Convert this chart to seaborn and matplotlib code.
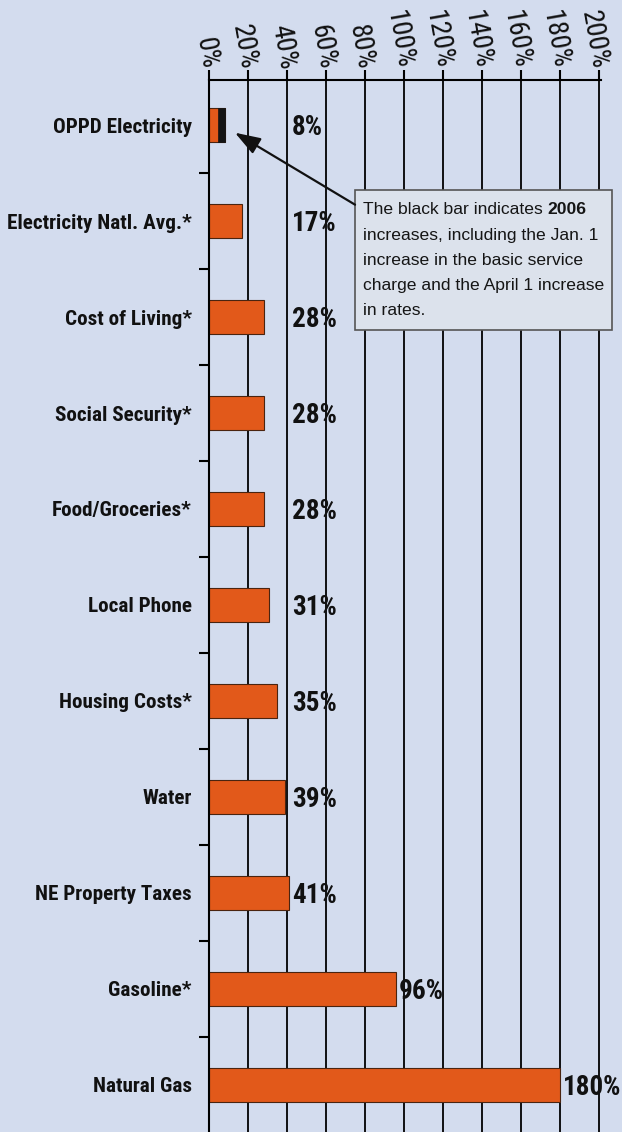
import matplotlib
matplotlib.use("Agg")
import matplotlib.pyplot as plt
from matplotlib.patches import Rectangle
import seaborn as sns
import pandas as pd

# Cumulative price increases by category
categories = [
    "OPPD Electricity",
    "Electricity Natl. Avg.*",
    "Cost of Living*",
    "Social Security*",
    "Food/Groceries*",
    "Local Phone",
    "Housing Costs*",
    "Water",
    "NE Property Taxes",
    "Gasoline*",
    "Natural Gas",
]
increase_pct = [8, 17, 28, 28, 28, 31, 35, 39, 41, 96, 180]
oppd_2006_pct = 3.5          # part of the OPPD bar coming from 2006 increases
x_ticks = [0, 20, 40, 60, 80, 100, 120, 140, 160, 180, 200]
x_tick_labels = [f"{t}%" for t in x_ticks]
note_lines = [
    "increases, including the Jan. 1",
    "increase in the basic service",
    "charge and the April 1 increase",
    "in rates.",
]

BG = "#d3dcee"
BOX_BG = "#dce2ec"
ORANGE = "#e2591a"
EDGE = "#4a2410"

sns.set_theme(style="white")
plt.rcParams["font.family"] = ["Roboto Condensed", "Roboto", "DejaVu Sans"]

W, H = 622, 1132
fig = plt.figure(figsize=(W / 100, H / 100), dpi=100, facecolor=BG)
px_per_pct = 1.95
ax = fig.add_axes([209 / W, 0, 201 * px_per_pct / W, 1 - 80 / H])
ax.set_facecolor(BG)

df = pd.DataFrame({"category": categories, "increase": increase_pct})
sns.barplot(data=df, x="increase", y="category", orient="h", color=ORANGE,
            saturation=1, width=0.35, edgecolor=EDGE, linewidth=0.8, ax=ax)

# 2006 portion of the OPPD bar, shown in black at its right end
ax.barh(0, oppd_2006_pct, left=increase_pct[0] - oppd_2006_pct, height=0.35,
        color="#141414", edgecolor="#141414", linewidth=0.5, zorder=3)

ax.set_xlim(0, 201)
ax.set_ylim(10.49, -0.469)
ax.set_xlabel("")
ax.set_ylabel("")

# axes frame and vertical grid
for side in ("right", "bottom"):
    ax.spines[side].set_visible(False)
for side in ("left", "top"):
    ax.spines[side].set_color("black")
    ax.spines[side].set_linewidth(1.5)
ax.set_axisbelow(True)
ax.grid(axis="x", color="black", linewidth=1.3)
ax.grid(axis="y", visible=False)

ax.set_xticks(x_ticks)
ax.set_xticklabels(x_tick_labels)
ax.tick_params(axis="x", top=True, bottom=False, labeltop=True, labelbottom=False,
               direction="out", length=7, width=1.5, color="black", pad=1,
               labelsize=20, labelcolor="#111111")
for lab in ax.get_xticklabels():
    lab.set_rotation(-80)
    lab.set_rotation_mode("anchor")
    lab.set_ha("right")
    lab.set_va("center")

ax.set_yticks(range(len(categories)))
ax.set_yticklabels(categories, fontweight="bold")
ax.set_yticks([i + 0.5 for i in range(len(categories) - 1)], minor=True)
ax.tick_params(axis="y", which="major", length=0, pad=12.5, labelsize=15.2,
               labelcolor="#111111")
ax.tick_params(axis="y", which="minor", left=True, direction="out", length=7,
               width=1.5, color="black")

# value labels, kept clear of the note column
for i, v in enumerate(increase_pct):
    ax.annotate(f"{v}%", xy=(max(v, 41), i), xytext=(2, -1.5),
                textcoords="offset points", ha="left", va="center",
                fontsize=19.5, fontweight="bold", color="#111111")

# explanatory note with pointer to the black bar
ax.add_patch(Rectangle((74.9, 0.68), 131.8, 1.46, facecolor=BOX_BG,
                       edgecolor="#555555", linewidth=1.2, clip_on=False, zorder=5))
ax.annotate("", xy=(13.3, 0.08), xytext=(74.9, 0.83),
            arrowprops=dict(arrowstyle="-|>,head_length=1.3,head_width=0.45",
                            color="#111111", lw=1.6, shrinkA=0, shrinkB=0),
            zorder=6)
note_font = dict(fontsize=12.6, color="#151515", family=["Liberation Sans", "DejaVu Sans"],
                 zorder=6, clip_on=False)
first = ax.text(79, 0.885, "The black bar indicates", ha="left", va="center", **note_font)
ax.annotate("2006", xy=(1, 0), xycoords=first, xytext=(3.5, 0),
            textcoords="offset points", ha="left", va="bottom",
            fontweight="bold", **note_font)
for k, line in enumerate(note_lines, start=1):
    ax.text(79, 0.885 + 0.262 * k, line, ha="left", va="center", **note_font)

fig.savefig("out.png", dpi=100, facecolor=BG)
